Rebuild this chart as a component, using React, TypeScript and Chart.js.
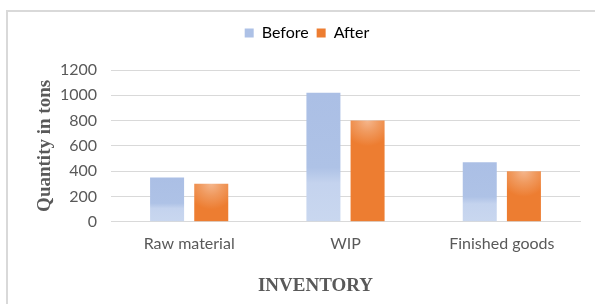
import React, { useEffect, useRef } from "react";
import { Chart, registerables } from "chart.js";

Chart.register(...registerables);

const categories = ["Raw material", "WIP", "Finished goods"];
const beforeValues = [350, 1020, 470];
const afterValues = [300, 800, 400];
const yTicks = [0, 200, 400, 600, 800, 1000, 1200];
const yTitle = "Quantity in tons";
const xTitle = "INVENTORY";

const sansFont = "Lato, 'Noto Sans', sans-serif";
const serifFont = "'Liberation Serif', 'Times New Roman', serif";
const CAT_PCT = 0.565;
const BAR_PCT = 0.77;

function barGradient(ctx: any, kind: "before" | "after") {
  const chart = ctx.chart;
  const { chartArea } = chart;
  if (!chartArea || ctx.type !== "data") return kind === "before" ? "#ADC1E6" : "#ED7D31";
  const ys = chart.scales.y;
  const xs = chart.scales.x;
  const v = ctx.raw as number;
  const top = ys.getPixelForValue(v);
  const base = ys.getPixelForValue(0);
  if (kind === "before") {
    const g = chart.ctx.createLinearGradient(0, top, 0, base);
    g.addColorStop(0, "#ABBFE5");
    g.addColorStop(0.58, "#AEC2E6");
    g.addColorStop(0.7, "#C4D3EE");
    g.addColorStop(1, "#C9D7EF");
    return g;
  }
  const catW = xs.width / categories.length;
  const slot = (catW * CAT_PCT) / 2;
  const cx = xs.getPixelForValue(ctx.dataIndex) + slot / 2;
  const barW = slot * BAR_PCT;
  const g = chart.ctx.createRadialGradient(cx, top, 0, cx, top, barW * 0.75);
  g.addColorStop(0, "#F5B68C");
  g.addColorStop(0.45, "#F09A5F");
  g.addColorStop(1, "#ED7D31");
  return g;
}

const legendSpacer = {
  id: "legendSpacer",
  beforeInit(chart: any) {
    const orig = chart.legend.fit;
    chart.legend.fit = function () {
      orig.bind(chart.legend)();
      this.height += 19;
    };
  },
};

const xTitlePlugin = {
  id: "xTitlePlugin",
  afterDraw(chart: any) {
    const { ctx, chartArea } = chart;
    ctx.save();
    ctx.font = `bold 19px ${serifFont}`;
    ctx.fillStyle = "#595959";
    ctx.textAlign = "center";
    ctx.textBaseline = "middle";
    ctx.fillText(xTitle, (chartArea.left + chartArea.right) / 2 - 30, 286);
    ctx.restore();
  },
};

export default function App() {
  const ref = useRef<HTMLCanvasElement>(null);
  useEffect(() => {
    if (!ref.current) return;
    const chart = new Chart(ref.current, {
      type: "bar",
      data: {
        labels: categories,
        datasets: [
          {
            label: "Before",
            data: beforeValues,
            backgroundColor: (c: any) => barGradient(c, "before"),
            borderWidth: 0,
            barPercentage: BAR_PCT,
            categoryPercentage: CAT_PCT,
          },
          {
            label: "After",
            data: afterValues,
            backgroundColor: (c: any) => barGradient(c, "after"),
            borderWidth: 0,
            barPercentage: BAR_PCT,
            categoryPercentage: CAT_PCT,
          },
        ],
      },
      options: {
        animation: false,
        responsive: false,
        maintainAspectRatio: false,
        layout: { padding: { left: 34, right: 15, top: 17, bottom: 39 } },
        plugins: {
          legend: {
            position: "top",
            labels: {
              boxWidth: 9,
              boxHeight: 9,
              padding: 8,
              color: "#595959",
              font: { family: sansFont, size: 16 },
              generateLabels: () => [
                { text: "Before", fillStyle: "#ADC1E6", strokeStyle: "#ADC1E6", lineWidth: 0, datasetIndex: 0 },
                { text: "After", fillStyle: "#ED7D31", strokeStyle: "#ED7D31", lineWidth: 0, datasetIndex: 1 },
              ] as any,
            },
          },
          tooltip: { enabled: false },
        },
        scales: {
          x: {
            grid: { display: false, drawTicks: false },
            border: { color: "#D9D9D9", width: 1 },
            ticks: {
              color: "#595959",
              padding: 12,
              font: { family: sansFont, size: 16 },
            },
          },
          y: {
            min: 0,
            max: 1200,
            afterBuildTicks: (s: any) => {
              s.ticks = yTicks.map((v) => ({ value: v }));
            },
            afterFit: (s: any) => {
              s.width = 77;
            },
            grid: { color: "#D9D9D9", drawTicks: false },
            border: { display: false },
            ticks: {
              color: "#595959",
              padding: 14,
              font: { family: sansFont, size: 16 },
              callback: (v: any) => String(v),
            },
            title: {
              display: true,
              text: yTitle,
              color: "#595959",
              padding: { top: 0, bottom: 0 },
              font: { family: serifFont, size: 19, weight: "bold" },
            },
          },
        },
      },
      plugins: [legendSpacer, xTitlePlugin],
    });
    return () => chart.destroy();
  }, []);

  return (
    <div style={{ position: "fixed", left: 0, top: 0, width: 595, height: 304, background: "#fff", overflow: "hidden" }}>
      <div
        style={{
          position: "absolute",
          left: 6,
          top: 10,
          width: 640,
          height: 320,
          border: "2px solid #D9D9D9",
          boxSizing: "border-box",
        }}
      />
      <canvas ref={ref} width={595} height={304} style={{ position: "absolute", left: 0, top: 0 }} />
    </div>
  );
}
